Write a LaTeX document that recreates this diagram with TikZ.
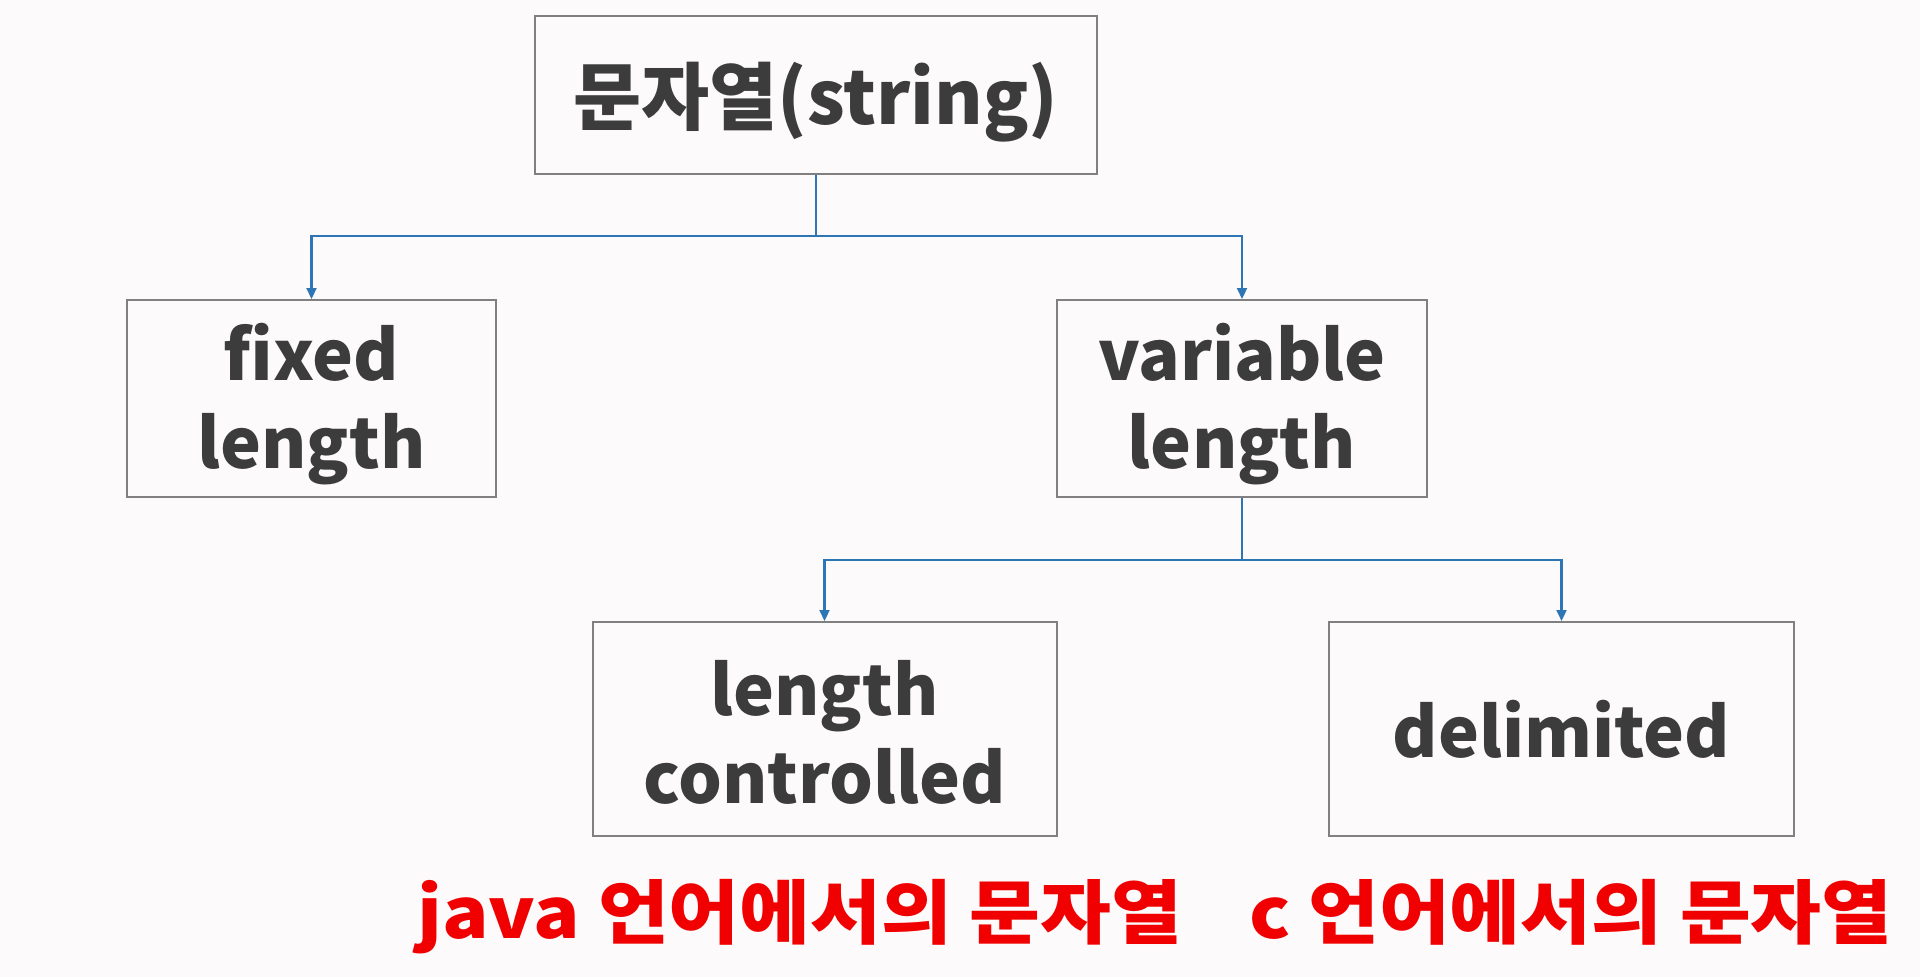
\documentclass[tikz,border=0pt]{standalone}
\usepackage{fontspec}
\setmainfont{Noto Sans CJK KR}
\usetikzlibrary{arrows.meta}
\definecolor{bg}{RGB}{253,250,251}
\definecolor{boxline}{RGB}{128,128,128}
\definecolor{txt}{RGB}{60,60,60}
\definecolor{conn}{RGB}{46,117,182}
\definecolor{redtxt}{RGB}{240,0,0}
\newcommand{\dn}[2]{\raisebox{0pt}[\dimexpr\height+#1\relax][\depth]{#2}}
\tikzset{
  box/.style={draw=boxline, line width=2pt, fill=bg, text=txt, align=center, inner sep=0pt,
    font=\fontsize{69}{88}\selectfont\bfseries},
  link/.style={draw=conn, line width=2.2pt},
  linkarr/.style={link, -{Triangle[length=11pt,width=10pt]}},
  note/.style={text=redtxt, anchor=base west, inner sep=0pt, xscale=1.1, transform shape,
    font=\fontsize{70}{76}\selectfont\bfseries}
}
\begin{document}
\begin{tikzpicture}[x=1pt,y=-1pt]
\fill[bg] (0,0) rectangle (1920,977);
\useasboundingbox (0,0) rectangle (1920,977);
\node[box, minimum width=562pt, minimum height=158pt, font=\fontsize{74}{80}\selectfont\bfseries] (root) at (816,95) {\dn{14pt}{문자열(string)}};
\node[box, minimum width=369pt, minimum height=197pt] (fixed) at (311.5,398.5) {\dn{12pt}{fixed}\\length};
\node[box, minimum width=370pt, minimum height=197pt] (var) at (1242,398.5) {\dn{12pt}{variable}\\length};
\node[box, minimum width=464pt, minimum height=214pt] (lc) at (824.5,729) {\dn{6pt}{length}\\controlled};
\node[box, minimum width=465pt, minimum height=214pt] (del) at (1561.5,729) {delimited};
\coordinate (j1) at (816,236);
\coordinate (j2) at (1242,560);
\draw[link] (root.south) -- (j1);
\draw[linkarr] (j1) -| (fixed.north);
\draw[linkarr] (j1) -| (var.north);
\draw[link] (var.south) -- (j2);
\draw[linkarr] (j2) -| (lc.north);
\draw[linkarr] (j2) -| (del.north);
\node[note] (n1) at (417,938) {java 언어에서의 문자열};
\node[note] (n2) at (1249,938) {c 언어에서의 문자열};
\end{tikzpicture}
\end{document}
